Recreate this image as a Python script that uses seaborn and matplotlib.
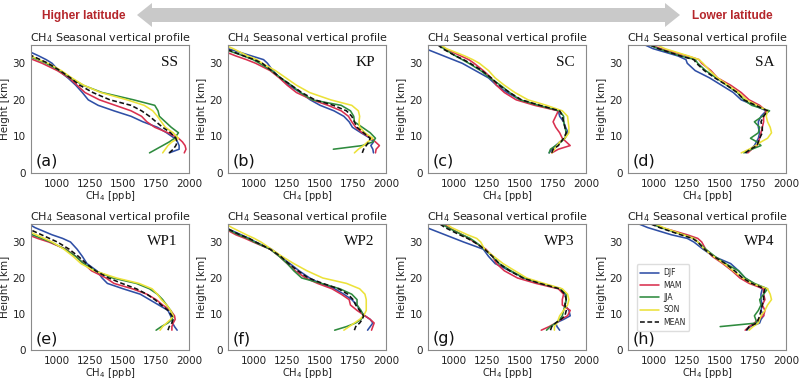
import numpy as np
import pandas as pd
import matplotlib
matplotlib.use("Agg")
import matplotlib.pyplot as plt
import seaborn as sns
from matplotlib.patches import Polygon

nan = np.nan
HEIGHTS = [5.5, 6.5, 7.5, 8.5, 9.5, 11, 12.5, 14, 15.5, 17, 18.5, 20, 22, 24, 26, 28, 30, 31, 32, 34, 35.5]
SEASONS = ["DJF", "MAM", "JJA", "SON", "MEAN"]
STATIONS = ["SS", "KP", "SC", "SA", "WP1", "WP2", "WP3", "WP4"]
PANEL_LABELS = ["(a)", "(b)", "(c)", "(d)", "(e)", "(f)", "(g)", "(h)"]
X_TICKS = [1000, 1250, 1500, 1750, 2000]
Y_TICKS = [0, 10, 20, 30]

SS = {
    "DJF":  [1850, 1925, 1925, 1913, 1890, 1830, 1760, 1650, 1560, 1430, 1310, 1235, 1190, 1140, 1080, 1010, 960, 915, 860, 740, 660],
    "MAM":  [1964, 1977, 1970, 1950, 1920, 1840, 1740, 1680, 1640, 1560, 1440, 1320, 1210, 1150, 1090, 1000, 885, 815, 750, 640, 560],
    "JJA":  [1700, 1750, 1800, 1850, 1890, 1920, 1865, 1820, 1775, 1765, 1740, 1580, 1340, 1196, 1100, 1020, 915, 850, 780, 650, 570],
    "SON":  [1800, 1820, 1840, 1870, 1920, 1880, 1820, 1790, 1760, 1725, 1660, 1530, 1330, 1200, 1110, 1030, 930, 860, 800, 680, 600],
    "MEAN": [1850, 1880, 1900, 1910, 1900, 1860, 1800, 1750, 1700, 1640, 1560, 1400, 1270, 1170, 1100, 1020, 930, 870, 810, 700, 620],
}
KP = {
    "DJF":  [1905, 1900, 1885, 1905, 1880, 1810, 1745, 1720, 1680, 1605, 1500, 1425, 1350, 1260, 1195, 1140, 1100, 1070, 980, 800, 700],
    "MAM":  [1920, 1925, 1950, 1920, 1890, 1820, 1770, 1740, 1715, 1660, 1560, 1440, 1320, 1250, 1190, 1120, 1010, 940, 860, 720, 630],
    "JJA":  [nan, 1600, 1820, 1900, 1920, 1880, 1820, 1760, 1755, 1730, 1660, 1440, 1350, 1280, 1200, 1130, 1040, 990, 920, 760, 680],
    "SON":  [1760, 1790, 1830, 1860, 1900, 1840, 1800, 1795, 1800, 1790, 1740, 1580, 1420, 1320, 1240, 1160, 1060, 1020, 950, 840, 740],
    "MEAN": [1820, 1830, 1850, 1870, 1880, 1830, 1780, 1760, 1740, 1700, 1600, 1460, 1360, 1280, 1200, 1130, 1060, 1000, 920, 780, 690],
}
SC = {
    "DJF":  [1720, 1740, 1770, 1800, 1840, 1865, 1845, 1830, 1800, 1790, 1640, 1500, 1400, 1320, 1260, 1160, 1060, 990, 920, 780, 700],
    "MAM":  [1740, 1790, 1880, 1850, 1820, 1800, 1770, 1750, 1770, 1790, 1610, 1470, 1380, 1320, 1280, 1220, 1150, 1110, 1050, 930, 870],
    "JJA":  [1720, 1730, 1770, 1810, 1840, 1850, 1840, 1830, 1830, 1800, 1640, 1500, 1420, 1350, 1270, 1200, 1110, 1060, 1010, 920, 860],
    "SON":  [1740, 1760, 1780, 1800, 1840, 1870, 1870, 1865, 1860, 1820, 1700, 1560, 1460, 1380, 1310, 1260, 1190, 1140, 1080, 940, 880],
    "MEAN": [1740, 1750, 1790, 1810, 1830, 1850, 1840, 1830, 1820, 1800, 1650, 1510, 1420, 1340, 1280, 1210, 1120, 1070, 1010, 910, 860],
}
SA = {
    "DJF":  [1700, 1730, 1760, 1775, 1790, 1800, 1790, 1790, 1810, 1850, 1760, 1660, 1600, 1510, 1420, 1310, 1250, 1240, 1180, 990, 900],
    "MAM":  [1710, 1740, 1780, 1790, 1800, 1810, 1820, 1830, 1830, 1850, 1800, 1720, 1660, 1580, 1480, 1430, 1360, 1340, 1250, 1050, 930],
    "JJA":  [1680, 1740, 1810, 1780, 1730, 1790, 1800, 1760, 1820, 1875, 1740, 1680, 1630, 1550, 1470, 1390, 1330, 1310, 1200, 1030, 930],
    "SON":  [1660, 1720, 1770, 1810, 1860, 1890, 1880, 1860, 1850, 1860, 1780, 1700, 1640, 1560, 1480, 1420, 1370, 1340, 1260, 1080, 990],
    "MEAN": [1690, 1730, 1780, 1790, 1800, 1820, 1820, 1810, 1830, 1860, 1770, 1680, 1630, 1550, 1460, 1380, 1320, 1300, 1200, 1030, 940],
}
WP1 = {
    "DJF":  [1910, 1890, 1875, 1870, 1860, 1840, 1770, 1700, 1630, 1500, 1380, 1340, 1300, 1225, 1190, 1150, 1100, 1040, 960, 830, 760],
    "MAM":  [1870, 1870, 1880, 1895, 1890, 1860, 1800, 1750, 1680, 1570, 1430, 1370, 1260, 1200, 1140, 1065, 935, 850, 780, 640, 560],
    "JJA":  [1750, 1790, 1840, 1870, 1880, 1860, 1830, 1800, 1760, 1700, 1600, 1420, 1290, 1200, 1140, 1060, 950, 880, 810, 680, 600],
    "SON":  [1780, 1800, 1830, 1860, 1880, 1860, 1830, 1790, 1760, 1720, 1620, 1450, 1280, 1180, 1120, 1050, 960, 900, 840, 720, 640],
    "MEAN": [1840, 1850, 1870, 1880, 1870, 1840, 1790, 1740, 1680, 1600, 1490, 1390, 1290, 1220, 1160, 1090, 1000, 940, 880, 760, 680],
}
WP2 = {
    "DJF":  [1860, 1880, 1900, 1880, 1840, 1800, 1780, 1740, 1680, 1610, 1500, 1420, 1340, 1270, 1200, 1130, 1010, 960, 900, 780, 700],
    "MAM":  [1890, 1900, 1910, 1880, 1840, 1780, 1730, 1720, 1660, 1590, 1480, 1390, 1310, 1250, 1190, 1120, 990, 930, 860, 760, 690],
    "JJA":  [1610, 1700, 1770, 1810, 1830, 1810, 1780, 1780, 1740, 1650, 1510, 1360, 1300, 1250, 1190, 1120, 1000, 950, 880, 770, 700],
    "SON":  [1680, 1720, 1760, 1800, 1830, 1850, 1850, 1850, 1840, 1800, 1700, 1520, 1400, 1300, 1210, 1130, 1050, 1000, 940, 830, 760],
    "MEAN": [1760, 1770, 1800, 1820, 1830, 1800, 1770, 1750, 1710, 1640, 1520, 1410, 1330, 1260, 1200, 1120, 1010, 960, 890, 780, 700],
}
WP3 = {
    "DJF":  [1800, 1780, 1770, 1830, 1880, 1870, 1840, 1850, 1840, 1800, 1650, 1530, 1420, 1310, 1260, 1220, 1070, 1000, 930, 790, 720],
    "MAM":  [1660, 1720, 1770, 1810, 1860, 1880, 1820, 1820, 1830, 1790, 1620, 1480, 1380, 1320, 1290, 1240, 1150, 1110, 1060, 960, 900],
    "JJA":  [1700, 1730, 1770, 1800, 1820, 1830, 1840, 1850, 1850, 1810, 1660, 1530, 1430, 1340, 1290, 1230, 1160, 1120, 1060, 950, 880],
    "SON":  [1760, 1760, 1780, 1790, 1800, 1830, 1860, 1870, 1860, 1820, 1680, 1550, 1460, 1370, 1300, 1230, 1200, 1170, 1100, 980, 920],
    "MEAN": [1730, 1740, 1770, 1810, 1840, 1850, 1840, 1850, 1840, 1800, 1650, 1520, 1420, 1340, 1290, 1230, 1150, 1100, 1040, 930, 870],
}
WP4 = {
    "DJF":  [1700, 1730, 1800, 1810, 1830, 1810, 1820, 1810, 1810, 1820, 1750, 1690, 1640, 1580, 1450, 1370, 1300, 1250, 1130, 950, 850],
    "MAM":  [1690, 1720, 1760, 1790, 1830, 1840, 1820, 1840, 1830, 1830, 1720, 1650, 1590, 1520, 1440, 1390, 1360, 1330, 1250, 1060, 950],
    "JJA":  [nan, 1500, 1780, 1770, 1760, 1790, 1810, 1800, 1830, 1860, 1760, 1690, 1640, 1540, 1460, 1390, 1330, 1300, 1220, 1050, 950],
    "SON":  [1720, 1750, 1790, 1800, 1810, 1840, 1860, 1890, 1880, 1860, 1740, 1670, 1600, 1530, 1450, 1380, 1330, 1300, 1220, 1070, 980],
    "MEAN": [1700, 1720, 1780, 1790, 1800, 1810, 1820, 1830, 1830, 1840, 1740, 1670, 1610, 1540, 1450, 1380, 1330, 1290, 1200, 1040, 940],
}
PROFILES = [SS, KP, SC, SA, WP1, WP2, WP3, WP4]

COLORS = {"DJF": "#2f4fa6", "MAM": "#d9304f", "JJA": "#2e8b3e", "SON": "#ece23a", "MEAN": "#111111"}
DASHES = {"DJF": "", "MAM": "", "JJA": "", "SON": "", "MEAN": (3, 1.6)}

sns.set_style("white")
plt.rcParams["font.family"] = ["DejaVu Sans"]
fig = plt.figure(figsize=(8, 3.8), dpi=100)

# header arrow and latitude labels (pixel coordinates overlay)
hdr = fig.add_axes([0, 0, 1, 1], zorder=-1)
hdr.set_xlim(0, 800)
hdr.set_ylim(380, 0)
hdr.axis("off")
arrow_pts = [(137, 15), (152, 3), (152, 8), (665, 8), (665, 3), (680, 15),
             (665, 27), (665, 22), (152, 22), (152, 27)]
hdr.add_patch(Polygon(arrow_pts, closed=True, facecolor="#c9c9c9", edgecolor="none"))
hdr_font = ["Liberation Sans", "DejaVu Sans"]
hdr.text(84, 16, "Higher latitude", color="#b5262b", fontsize=8.6, fontweight="bold",
         family=hdr_font, ha="center", va="center")
hdr.text(732, 16, "Lower latitude", color="#b5262b", fontsize=8.6, fontweight="bold",
         family=hdr_font, ha="center", va="center")

lefts = [31, 228, 428, 628]
W, H = 800.0, 380.0
rows = [(45, 173), (224, 350)]

for i, (prof, name, lab) in enumerate(zip(PROFILES, STATIONS, PANEL_LABELS)):
    r, c = divmod(i, 4)
    top, bot = rows[r]
    ax = fig.add_axes([lefts[c] / W, 1 - bot / H, 158 / W, (bot - top) / H])
    df = pd.DataFrame({
        "Height": HEIGHTS * len(SEASONS),
        "CH4": sum((prof[s] for s in SEASONS), []),
        "Season": np.repeat(SEASONS, len(HEIGHTS)),
    }).dropna()
    sns.lineplot(data=df, x="CH4", y="Height", hue="Season", style="Season",
                 hue_order=SEASONS, style_order=SEASONS, palette=COLORS, dashes=DASHES,
                 orient="y", sort=False, estimator=None, linewidth=1.15,
                 ax=ax, legend=(i == 7))
    ax.set_xlim(800, 2000)
    ax.set_ylim(0, 35)
    ax.set_xticks(X_TICKS)
    ax.set_yticks(Y_TICKS)
    ax.tick_params(labelsize=7.5, length=3, width=0.6, color="#666666", labelcolor="#222222", pad=1)
    for sp in ax.spines.values():
        sp.set_color("#8a8a8a")
        sp.set_linewidth(0.8)
    ax.set_title(r"CH$_4$ Seasonal vertical profile", fontsize=8, pad=3, color="#222222")
    ax.set_xlabel(r"CH$_4$ [ppb]", fontsize=7.2, labelpad=0.5, color="#222222")
    ax.set_ylabel("Height [km]", fontsize=7.5, labelpad=2, color="#222222")
    ax.text(0.93, 0.86, name, transform=ax.transAxes, ha="right", va="center",
            fontsize=11, family=["Liberation Serif", "DejaVu Serif"], color="#111111")
    ax.text(0.03, 0.09, lab, transform=ax.transAxes, ha="left", va="center",
            fontsize=11.5, color="#111111")
    if i == 7:
        handles, labels = ax.get_legend_handles_labels()
        ax.legend(handles, labels, loc="upper left", bbox_to_anchor=(0.03, 0.71),
                  fontsize=5.5, frameon=True, edgecolor="#dddddd", handlelength=2.4,
                  handletextpad=0.6, borderpad=0.5, labelspacing=0.45, framealpha=1)

fig.savefig("out.png", dpi=100)
